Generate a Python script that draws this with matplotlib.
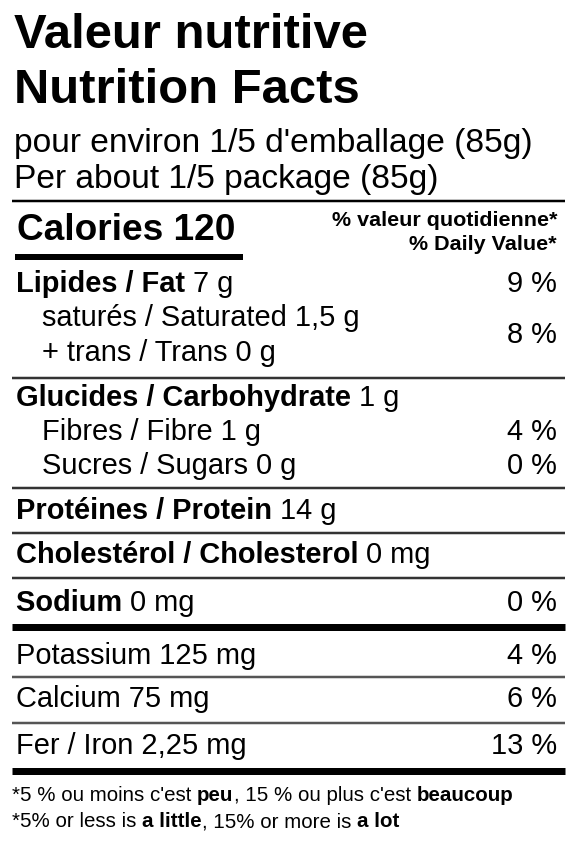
import matplotlib
matplotlib.use("Agg")
import matplotlib.pyplot as plt

plt.rcParams['font.family'] = ['Liberation Sans', 'DejaVu Sans']

title_fr = "Valeur nutritive"
title_en = "Nutrition Facts"
serving_fr = "pour environ 1/5 d'emballage (85g)"
serving_en = "Per about 1/5 package (85g)"
calories = "120"
dv_head = ["% valeur quotidienne*", "% Daily Value*"]

rows_bold = ["Lipides / Fat", "saturés / Saturated", "+ trans / Trans",
             "Glucides / Carbohydrate", "Fibres / Fibre", "Sucres / Sugars",
             "Protéines / Protein", "Cholestérol / Cholesterol", "Sodium",
             "Potassium", "Calcium", "Fer / Iron"]
rows_amount = ["7 g", "1,5 g", "0 g", "1 g", "1 g", "0 g", "14 g", "0 mg", "0 mg",
               "125 mg", "75 mg", "2,25 mg"]
rows_isbold = [True, False, False, True, False, False, True, True, True, False, False, False]
rows_indent = [0, 1, 1, 0, 1, 1, 0, 0, 0, 0, 0, 0]
rows_y = [292, 326, 361, 406, 440, 474, 519, 563, 611, 664, 707, 754]
dv_values = ["9 %", "8 %", None, None, "4 %", "0 %", None, None, "0 %", "4 %", "6 %", "13 %"]
dv_y = [292, 343, None, None, 440, 474, None, None, 611, 664, 707, 754]

lines = [(201, 2.5, 'black'), (378, 2.5, '#333'), (488, 2.5, '#333'), (533, 2.5, '#333'),
         (578, 2.5, '#333'), (627, 7, 'black'), (677, 2.5, '#555'), (723, 2.5, '#555'),
         (771, 7, 'black')]

foot = [[("*5 % ou moins c'est ", False), ("peu", True), (", 15 % ou plus c'est ", False), ("beaucoup", True)],
        [("*5% or less is ", False), ("a little", True), (", 15% or more is ", False), ("a lot", True)]]

W, H = 577, 841
fig = plt.figure(figsize=(W/100, H/100), dpi=100)
ax = fig.add_axes([0, 0, 1, 1])
ax.set_xlim(0, W); ax.set_ylim(H, 0); ax.axis('off')
r = fig.canvas.get_renderer()

def seq(x, y, parts, size):
    for s, b in parts:
        t = ax.text(x, y, s, fontsize=size, fontweight='bold' if b else 'normal',
                    va='baseline', ha='left')
        x = t.get_window_extent(r).x1
    return x

px = 72/100
ax.text(14, 48, title_fr, fontsize=49*px, fontweight='bold', va='baseline')
ax.text(14, 103, title_en, fontsize=49*px, fontweight='bold', va='baseline')
ax.text(14, 152, serving_fr, fontsize=33.5*px, va='baseline')
ax.text(14, 188, serving_en, fontsize=33.5*px, va='baseline')

ax.text(17, 240, "Calories " + calories, fontsize=37*px, fontweight='bold', va='baseline')
ax.plot([15, 243], [257, 257], color='black', lw=6*px, solid_capstyle='butt')
ax.text(557, 226, dv_head[0], fontsize=21.5*px, fontweight='bold', va='baseline', ha='right')
ax.text(557, 250, dv_head[1], fontsize=21.5*px, fontweight='bold', va='baseline', ha='right')

for y, lw, c in lines:
    ax.plot([12, 565], [y, y], color=c, lw=lw*px, solid_capstyle='butt')

for b, a, isb, ind, y in zip(rows_bold, rows_amount, rows_isbold, rows_indent, rows_y):
    x0 = 42 if ind else 16
    if isb:
        seq(x0, y, [(b + " ", True), (a, False)], 29*px)
    else:
        seq(x0, y, [(b + " " + a, False)], 29*px)

for v, y in zip(dv_values, dv_y):
    if v:
        ax.text(557, y, v, fontsize=29*px, va='baseline', ha='right')

seq(12, 801, foot[0], 20.5*px)
seq(12, 827, foot[1], 20.5*px)

fig.savefig("out.png", dpi=100, facecolor='white')
